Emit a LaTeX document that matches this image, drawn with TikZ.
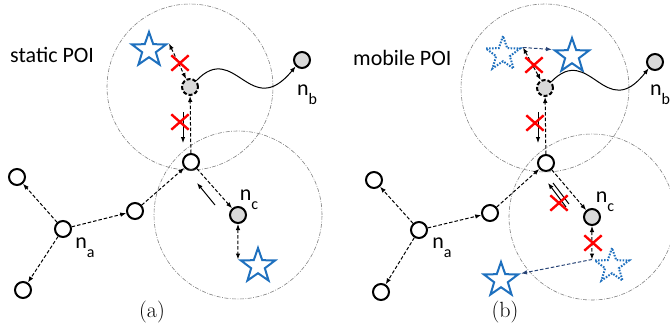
\documentclass[tikz,border=0pt]{standalone}
\usepackage{fontspec}
\newfontfamily\carl{Carlito}
\usetikzlibrary{arrows.meta,shapes.geometric,shapes.misc}
\definecolor{poiblue}{RGB}{30,112,190}
\definecolor{navy}{RGB}{40,68,118}
\begin{document}
\begin{tikzpicture}[x=1pt,y=-1pt,
  nd/.style={circle,draw,line width=2pt,minimum size=16pt,inner sep=0pt,fill=white},
  gnd/.style={nd,fill=gray!30},
  poi/.style={star,star points=5,star point ratio=2.5,minimum size=36pt,inner sep=0pt,draw=poiblue,line width=2pt,fill=white},
  ghost/.style={poi,fill=none,dash pattern=on 1.6pt off 1.4pt},
  rng/.style={draw=gray,line width=0.6pt,dash pattern=on 4pt off 1.5pt on 0.8pt off 1.5pt},
  link/.style={line width=1pt,dash pattern=on 3.5pt off 2pt,-{Latex[length=6pt,width=4.5pt]}},
  blink/.style={link,{Latex[length=6pt,width=4.5pt]}-{Latex[length=6pt,width=4.5pt]}},
  mv/.style={link,draw=navy},
  back/.style={line width=1pt,-{Latex[length=6pt,width=4.5pt]}},
  nox/.style={cross out,draw=red,line width=2.4pt,minimum width=15pt,minimum height=13pt,inner sep=0pt},
  lab/.style={font=\carl\fontsize{22}{26}\selectfont,inner sep=0pt},
  captxt/.style={font=\fontsize{22}{26}\selectfont,inner sep=0pt},
  wave/.style={line width=1pt,-{Latex[length=6pt,width=4.5pt]}}
]
\useasboundingbox (0,0) rectangle (670,327);

% ---------------- panel (a) ----------------
\node[nd] (tlA) at (17,177) {};
\node[nd] (blA) at (23,290) {};
\node[nd] (naA) at (63,229) {};
\node[nd] (mA) at (135,211) {};
\node[nd] (cA) at (191,162) {};
\node[gnd,dash pattern=on 4pt off 2pt] (gA) at (190,87) {};
\node[gnd] (nbA) at (302,60) {};
\node[gnd] (ncA) at (238,215) {};
\node[poi] (s1A) at (149,50) {};
\node[poi] (s2A) at (258,266) {};

\draw[rng] (gA) circle[radius=83pt];
\draw[rng] (ncA) circle[radius=84pt];

\draw[link] (naA) -- (tlA);
\draw[link] (naA) -- (blA);
\draw[link] (naA) -- (mA);
\draw[link] (mA) -- (cA);
\draw[link] (cA) -- (gA);
\draw[link] (cA) -- (ncA);
\draw[blink] (s1A.outer point 5) -- (gA);
\draw[blink] (ncA) -- (s2A.outer point 2);
\draw[wave] (gA.north east) .. controls (235,40) and (250,122) .. (nbA.south west);

\coordinate (dsA) at (183,112);
\coordinate (deA) at (183,143);
\draw[back] (dsA) -- (deA);
\coordinate (bsA) at (215,205);
\coordinate (beA) at (197,183);
\draw[back] (bsA) -- (beA);

\node[nox] (x1A) at (180,63) {};
\node[nox] (x2A) at (180,122) {};

\node[lab,anchor=west] (tA) at (10,55) {static POI};
\node[lab] (lbA) at (307,95) {n\raisebox{-0.4em}{\fontsize{16}{18}\selectfont b}};
\node[lab] (lcA) at (249,200) {n\raisebox{-0.4em}{\fontsize{16}{18}\selectfont c}};
\node[lab] (laA) at (85,248) {n\raisebox{-0.4em}{\fontsize{16}{18}\selectfont a}};
\node[captxt] (capA) at (152,312) {(a)};

% ---------------- panel (b) ----------------
\node[nd] (tlB) at (374,180) {};
\node[nd] (blB) at (381,292) {};
\node[nd] (naB) at (419,230) {};
\node[nd] (mB) at (490,213) {};
\node[nd] (cB) at (546,163) {};
\node[gnd,dash pattern=on 4pt off 2pt] (gB) at (545,88) {};
\node[gnd] (nbB) at (655,62) {};
\node[gnd] (ncB) at (592,217) {};
\node[ghost] (d1B) at (503,54) {};
\node[poi] (s1B) at (572,56) {};
\node[ghost] (d2B) at (612,266) {};
\node[poi] (s2B) at (501,280) {};

\draw[rng] (gB) circle[radius=84pt];
\draw[rng] (ncB) circle[radius=83pt];

\draw[link] (naB) -- (tlB);
\draw[link] (naB) -- (blB);
\draw[link] (naB) -- (mB);
\draw[link] (mB) -- (cB);
\draw[link] (cB) -- (gB);
\draw[link] (cB) -- (ncB);
\draw[blink] (d1B.outer point 5) -- (gB);
\draw[blink] (ncB) -- (d2B.outer point 2);
\draw[mv] (d1B.outer point 5) -- (s1B.outer point 2);
\draw[mv] (d2B.outer point 2) -- (s2B.outer point 5);
\draw[wave] (gB.north east) .. controls (590,42) and (605,124) .. (nbB.south west);

\coordinate (dsB) at (538,112);
\coordinate (deB) at (538,143);
\draw[back] (dsB) -- (deB);
\coordinate (bsB) at (566,207);
\coordinate (beB) at (548,183);
\draw[back] (bsB) -- (beB);
\coordinate (bsB2) at (569,204);
\coordinate (beB2) at (553,183);
\draw[line width=1pt] (bsB2) -- (beB2);

\node[nox] (x1B) at (534,65) {};
\node[nox] (x2B) at (535,123) {};
\node[nox] (x3B) at (559,203) {};
\node[nox] (x4B) at (593,243) {};

\node[lab,anchor=west] (tB) at (353,58) {mobile POI};
\node[lab] (lbB) at (660,95) {n\raisebox{-0.4em}{\fontsize{16}{18}\selectfont b}};
\node[lab] (lcB) at (605,202) {n\raisebox{-0.4em}{\fontsize{16}{18}\selectfont c}};
\node[lab] (laB) at (442,248) {n\raisebox{-0.4em}{\fontsize{16}{18}\selectfont a}};
\node[captxt] (capB) at (505,312) {(b)};
\end{tikzpicture}
\end{document}
